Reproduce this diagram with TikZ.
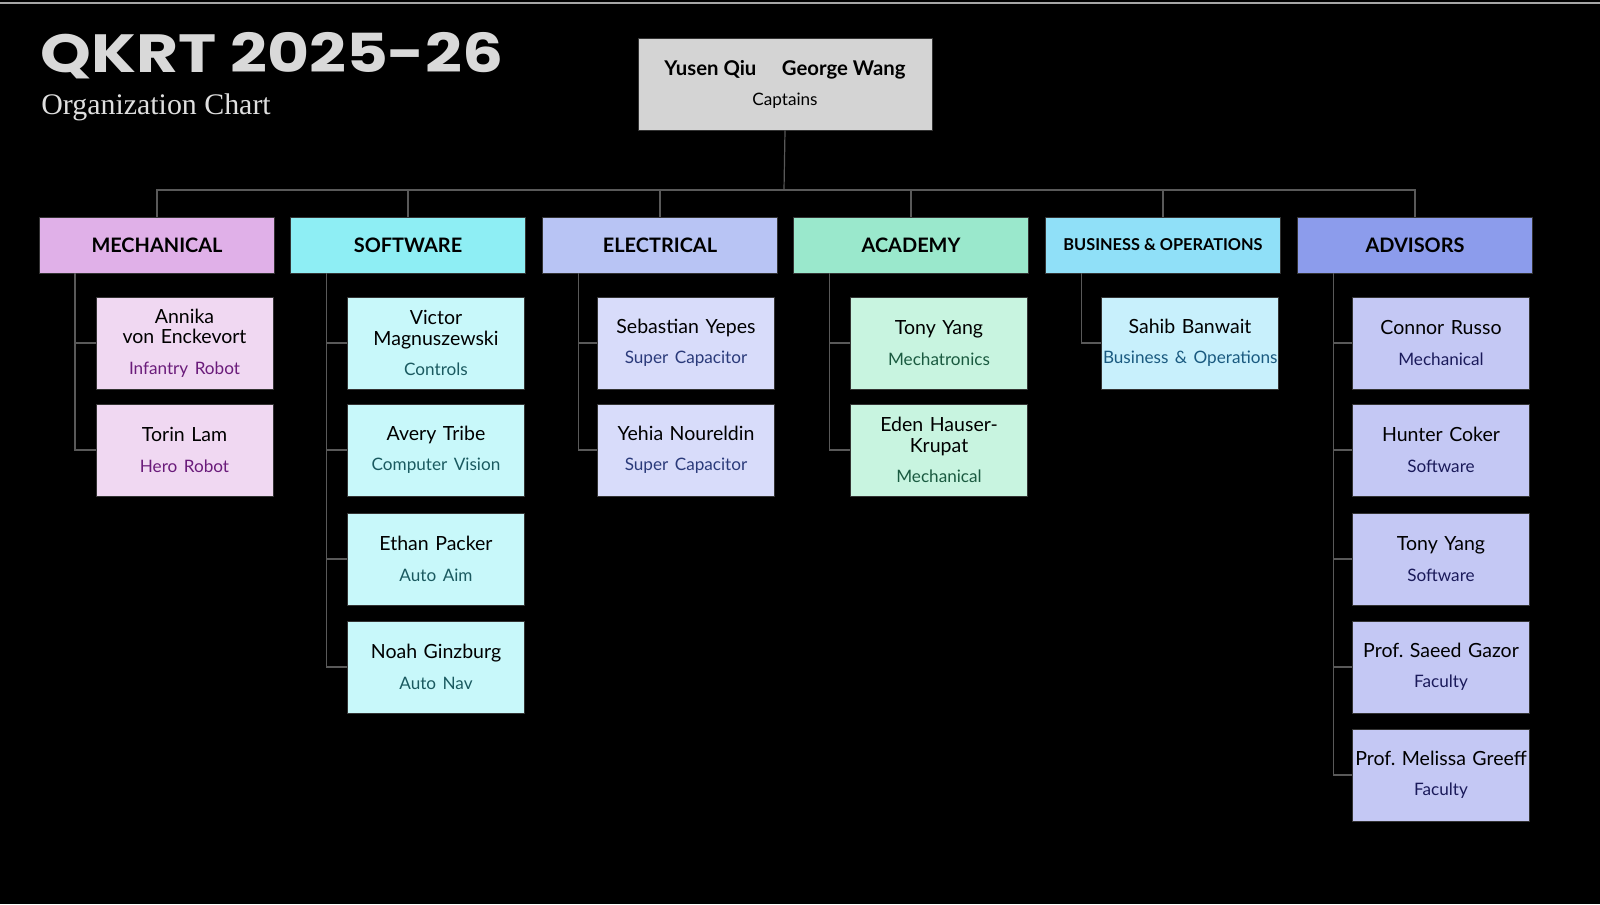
\documentclass[tikz,border=0pt]{standalone}
\usepackage{fontspec}
\setmainfont{Lato}
\newfontfamily\titlefont{Poppins}
\newfontfamily\subtitlefont{Liberation Serif}
\usetikzlibrary{calc,positioning}
\frenchspacing

\definecolor{hdMech}{HTML}{E0B0E8}\definecolor{cdMech}{HTML}{F0D8F2}\definecolor{txMech}{HTML}{6A1B7A}
\definecolor{hdSoft}{HTML}{8EEEF4}\definecolor{cdSoft}{HTML}{C8F8FA}\definecolor{txSoft}{HTML}{1A5A60}
\definecolor{hdElec}{HTML}{B8C4F4}\definecolor{cdElec}{HTML}{D8DCFA}\definecolor{txElec}{HTML}{2A3A7A}
\definecolor{hdAcad}{HTML}{9AE8CC}\definecolor{cdAcad}{HTML}{C8F4E0}\definecolor{txAcad}{HTML}{1A5A40}
\definecolor{hdBus}{HTML}{90E0F8}\definecolor{cdBus}{HTML}{C8F0FC}\definecolor{txBus}{HTML}{1A5A80}
\definecolor{hdAdv}{HTML}{8C9CEC}\definecolor{cdAdv}{HTML}{C4C8F4}\definecolor{txAdv}{HTML}{1A1A5A}
\definecolor{capt}{HTML}{D4D4D4}

% member card: name, fill, x, y, text, role colour, role
\newcommand\member[7]{\node[card, fill=#2] (#1) at (#3,#4) {#5\\[5bp]{\fontsize{8.6}{11}\selectfont\color{#6}\mbox{#7}}};}

\begin{document}
\begin{tikzpicture}[x=0.5bp, y=-0.5bp,
    dept/.style={draw=black!80, minimum width=117.5bp, minimum height=28bp, inner sep=0pt, font=\fontsize{10}{12}\selectfont\bfseries},
    card/.style={draw=black!80, minimum width=88.5bp, minimum height=46bp, text width=87bp, inner sep=0.5bp, align=center, font=\fontsize{9.8}{10.2}\selectfont},
    link/.style={draw=gray!70!black, line width=0.6bp}
]
    \useasboundingbox (0,0) rectangle (1600,904);
    \fill[black] (0,0) rectangle (1600,904);
    \draw[gray!70, line width=1bp] (0,3) -- (1600,3);

    % Title
    \node[anchor=base west, inner sep=0pt, text=gray!30, font=\titlefont\fontsize{27}{30}\selectfont\bfseries] (title) at (40,72) {\scalebox{1.2}[1]{QKRT 2025-26}};
    \node[anchor=base west, inner sep=0pt, text=gray!25, font=\subtitlefont\fontsize{15}{18}\selectfont] (subtitle) at (41,114) {Organization Chart};

    % Captains
    \node[draw=black!80, fill=capt, minimum width=147bp, minimum height=46bp, align=center, font=\fontsize{10.2}{12}\selectfont] (capt) at (785,84)
        {\textbf{Yusen Qiu}\quad\ \textbf{George Wang}\\[3bp]{\fontsize{8.6}{11}\selectfont Captains}};
    \coordinate (bus) at (784,190);

    % Departments
    \node[dept, fill=hdMech] (mech) at (157,245) {MECHANICAL};
    \node[dept, fill=hdSoft] (soft) at (408,245) {SOFTWARE};
    \node[dept, fill=hdElec] (elec) at (660,245) {ELECTRICAL};
    \node[dept, fill=hdAcad] (acad) at (911,245) {ACADEMY};
    \node[dept, fill=hdBus, font=\fontsize{8.2}{10}\selectfont\bfseries] (bus ops) at (1163,245) {BUSINESS \& OPERATIONS};
    \node[dept, fill=hdAdv] (adv) at (1415,245) {ADVISORS};

    % Members
    \member{mech1}{cdMech}{184.5}{343}{Annika\\von Enckevort}{txMech}{Infantry Robot}
    \member{mech2}{cdMech}{184.5}{450}{Torin Lam}{txMech}{Hero Robot}

    \member{soft1}{cdSoft}{436}{343}{Victor\\Magnuszewski}{txSoft}{Controls}
    \member{soft2}{cdSoft}{436}{450}{Avery Tribe}{txSoft}{Computer Vision}
    \member{soft3}{cdSoft}{436}{559}{Ethan Packer}{txSoft}{Auto Aim}
    \member{soft4}{cdSoft}{436}{667}{Noah Ginzburg}{txSoft}{Auto Nav}

    \member{elec1}{cdElec}{686}{343}{Sebastian Yepes}{txElec}{Super Capacitor}
    \member{elec2}{cdElec}{686}{450}{Yehia Noureldin}{txElec}{Super Capacitor}

    \member{acad1}{cdAcad}{939}{343}{Tony Yang}{txAcad}{Mechatronics}
    \member{acad2}{cdAcad}{939}{450}{Eden Hauser-\\Krupat}{txAcad}{Mechanical}

    \member{bus1}{cdBus}{1190}{343}{Sahib Banwait}{txBus}{Business \& Operations}

    \member{adv1}{cdAdv}{1441}{343}{Connor Russo}{txAdv}{Mechanical}
    \member{adv2}{cdAdv}{1441}{450}{Hunter Coker}{txAdv}{Software}
    \member{adv3}{cdAdv}{1441}{559}{Tony Yang}{txAdv}{Software}
    \member{adv4}{cdAdv}{1441}{667}{Prof. Saeed Gazor}{txAdv}{Faculty}
    \member{adv5}{cdAdv}{1441}{775}{\mbox{Prof. Melissa Greeff}}{txAdv}{Faculty}

    % Connectors
    \draw[link] (capt.south) -- (bus);
    \foreach \d in {mech,soft,elec,acad,bus ops,adv}
        \draw[link] (bus) -| (\d.north);
    \foreach \d/\m in {mech/mech1,mech/mech2,soft/soft1,soft/soft2,soft/soft3,soft/soft4,
                       elec/elec1,elec/elec2,acad/acad1,acad/acad2,bus ops/bus1,
                       adv/adv1,adv/adv2,adv/adv3,adv/adv4,adv/adv5}
        \draw[link] ($(\d.south west)+(36,0)$) |- (\m.west);
\end{tikzpicture}
\end{document}
